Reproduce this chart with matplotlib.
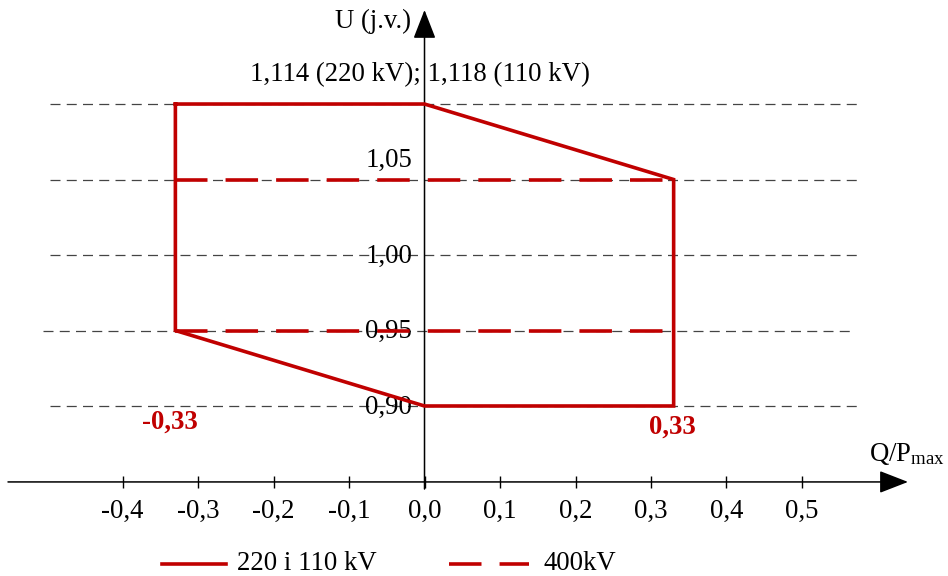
import numpy as np
import matplotlib
matplotlib.use("Agg")
import matplotlib.pyplot as plt
from matplotlib.lines import Line2D

plt.rcParams['font.family'] = ['Liberation Serif', 'DejaVu Serif']
plt.rcParams['mathtext.fontset'] = 'custom'
plt.rcParams['mathtext.rm'] = 'Liberation Serif'
plt.rcParams['mathtext.it'] = 'Liberation Serif:italic'

# Operating region (Q/Pmax, U in p.u.) for 220 kV and 110 kV
region_q = [-0.33, 0.0, 0.33, 0.33, 0.0, -0.33, -0.33]
region_u = [1.114, 1.114, 1.05, 0.90, 0.90, 0.95, 1.114]

# 400 kV voltage band
band_q = [-0.33, 0.33]
band_u_low = 0.95
band_u_high = 1.05

# Horizontal reference levels
ref_levels = [1.114, 1.05, 1.00, 0.95, 0.90]
ytick_labels = {1.05: '1,05', 1.00: '1,00', 0.95: '0,95', 0.90: '0,90'}

xticks = [-0.4, -0.3, -0.2, -0.1, 0.0, 0.1, 0.2, 0.3, 0.4, 0.5]
xtick_labels = ['-0,4', '-0,3', '-0,2', '-0,1', '0,0', '0,1', '0,2', '0,3', '0,4', '0,5']

legend_labels = ['220 i 110 kV', '400kV']

RED = '#c00000'
FS = 19.3
LW = 2.6
RED_DASH = (9, 5)

# Voltage axis is compressed above 1.05 so the upper limit fits the sketch
K = 0.05 / 0.064


def fwd(v):
    v = np.asarray(v, dtype=float)
    return np.where(v <= 1.05, v, 1.05 + (v - 1.05) * K)


def inv(p):
    p = np.asarray(p, dtype=float)
    return np.where(p <= 1.05, p, 1.05 + (p - 1.05) / K)


fig = plt.figure(figsize=(9.48, 5.76), dpi=100)
ax = fig.add_axes([0, 0, 1, 1])
ax.set_yscale('function', functions=(fwd, inv))
ax.set_xlim(-0.5623, 0.6934)
ax.set_ylim(0.7874, float(inv(1.1689)))
for s in ax.spines.values():
    s.set_visible(False)
ax.set_yticks([])

# Reference dashed levels
extents = {0.95: (-0.505, 0.570)}
for lv in ref_levels:
    x0, x1 = extents.get(lv, (-0.496, 0.577))
    ax.plot([x0, x1], [lv, lv], color='#444444', lw=0.9,
            dashes=(8, 5), zorder=1)

# Coordinate axes with arrows
x_axis_u = 0.8497
u_top = float(inv(1.1623))
arrow = dict(arrowstyle='-|>,head_length=0.9,head_width=0.35',
             mutation_scale=20, lw=1.1, color='black', shrinkA=0, shrinkB=0)
ax.annotate('', xy=(0.6404, x_axis_u), xytext=(-0.5517, x_axis_u),
            arrowprops=arrow, zorder=2)
ax.annotate('', xy=(0.0, u_top), xytext=(0.0, 0.845),
            arrowprops=arrow, zorder=2)

# x ticks on the horizontal axis
ax.spines['bottom'].set_position(('data', x_axis_u))
ax.set_xticks(xticks)
ax.set_xticklabels(xtick_labels, fontsize=FS)
ax.tick_params(axis='x', direction='inout', length=9, width=1.0,
               pad=8, colors='black')

# Operating region and 400 kV band
ax.plot(region_q, region_u, color=RED, lw=LW, zorder=4,
        solid_joinstyle='miter')
for u in (band_u_high, band_u_low):
    ax.plot(band_q, [u, u], color=RED, lw=LW, dashes=RED_DASH, zorder=4)

# Voltage level labels
for lv, txt in ytick_labels.items():
    dy = 14 if lv == 1.05 else -1
    ax.annotate(txt, xy=(0.0, lv), xytext=(-9, dy), textcoords='offset points',
                ha='right', va='center', fontsize=FS, zorder=3)
ax.annotate('1,114 (220 kV); 1,118 (110 kV)', xy=(0.0, 1.114),
            xytext=(-3, 21), textcoords='offset points',
            ha='center', va='center', fontsize=FS)
ax.annotate('U (j.v.)', xy=(0.0, u_top), xytext=(-10, -8),
            textcoords='offset points', ha='right', va='center', fontsize=FS)
ax.annotate(r'Q/P$_{\mathrm{max}}$', xy=(0.6934, x_axis_u), xytext=(-2, 20),
            textcoords='offset points', ha='right', va='center', fontsize=FS)

# Extreme Q/Pmax values
ax.annotate('-0,33', xy=(region_q[0], 0.90), xytext=(-4, -12),
            textcoords='offset points', ha='center', va='center',
            fontsize=FS, fontweight='bold', color=RED)
ax.annotate('0,33', xy=(region_q[2], 0.90), xytext=(-1, -15),
            textcoords='offset points', ha='center', va='center',
            fontsize=FS, fontweight='bold', color=RED)

# Legend drawn along the bottom edge
W, H = 948.0, 576.0
ly = 1 - 564 / H
fig.add_artist(Line2D([162 / W, 226 / W], [ly, ly], color=RED, lw=LW,
                      transform=fig.transFigure))
fig.add_artist(Line2D([449 / W, 529 / W], [ly, ly], color=RED, lw=LW,
                      dashes=RED_DASH, transform=fig.transFigure))
fig.text(237 / W, ly, legend_labels[0], ha='left', va='center', fontsize=FS)
fig.text(543 / W, ly, legend_labels[1], ha='left', va='center', fontsize=FS)

fig.savefig('out.png', dpi=100)
